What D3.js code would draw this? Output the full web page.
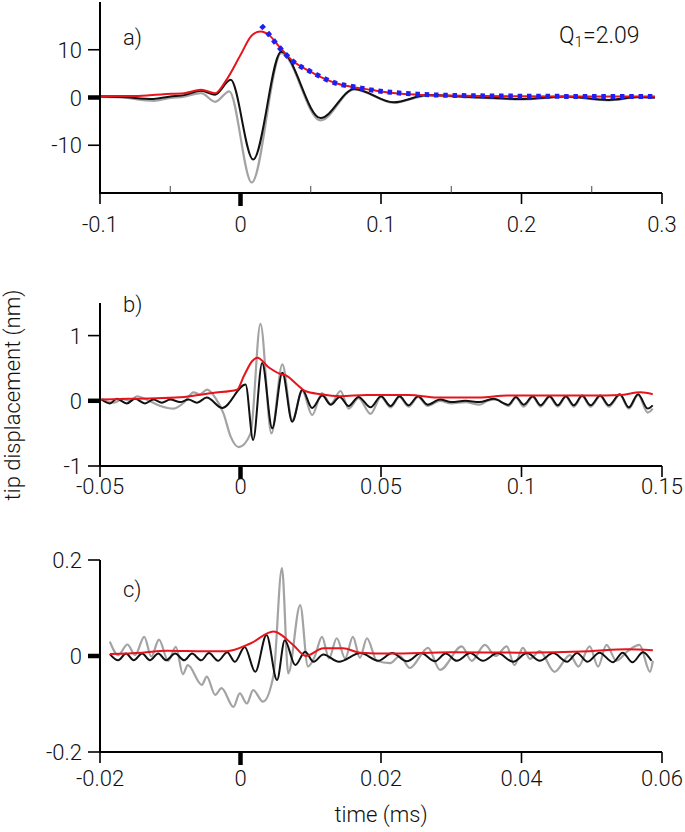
<!DOCTYPE html>
<html>
<head>
<meta charset="utf-8">
<script src="https://cdn.jsdelivr.net/npm/d3@7"></script>
<style>
  body { margin: 0; background: #fff; }
  svg text { font-family: Roboto, "Liberation Sans", Arial, sans-serif; font-weight: 300; fill: #111; }
</style>
</head>
<body>
<div id="chart"></div>
<script>
// ---- panel a) : [time (ms), displacement (nm)]
const aGray = [[-0.100,0.1],[-0.085,0.0],[-0.062,-0.7],[-0.050,-0.1],[-0.040,0.2],[-0.028,0.9],[-0.018,-0.9],[-0.008,1.3],[0.008,-17.8],[0.029,9.3],[0.057,-4.8],[0.081,1.7],[0.109,-1.1],[0.133,0.4],[0.165,0.0],[0.200,-0.4],[0.232,0.1],[0.262,-0.6],[0.283,0.0],[0.295,-0.1]];
const aBlack = [[-0.100,0.2],[-0.085,0.1],[-0.062,-0.3],[-0.050,0.2],[-0.040,0.5],[-0.028,1.4],[-0.018,0.6],[-0.007,3.7],[0.009,-13.0],[0.029,9.6],[0.057,-4.3],[0.081,1.8],[0.109,-1.0],[0.133,0.5],[0.165,0.1],[0.200,-0.3],[0.232,0.2],[0.262,-0.5],[0.283,0.1],[0.295,0.0]];
const aRed = [[-0.100,0.3],[-0.075,0.3],[-0.055,0.7],[-0.040,0.9],[-0.028,1.6],[-0.018,0.9],[-0.010,3.7],[0.000,8.9],[0.008,13.0],[0.014,13.8],[0.0214,12.8],[0.026,11.2],[0.032,9.2],[0.037,7.7],[0.043,6.5],[0.049,5.5],[0.055,4.6],[0.068,3.0],[0.080,2.2],[0.093,1.6],[0.107,1.0],[0.126,0.6],[0.150,0.4],[0.200,0.25],[0.250,0.2],[0.295,0.2]];
const aFit = [[0.0147,15.1],[0.0195,13.5],[0.0261,11.0],[0.032,9.1],[0.0368,7.7],[0.0427,6.5],[0.0487,5.6],[0.0546,4.7],[0.0677,3.0],[0.0795,2.3],[0.0926,1.6],[0.107,1.1],[0.126,0.7],[0.150,0.45],[0.200,0.28],[0.250,0.22],[0.295,0.2]];

// ---- panel b)
const bGray = [[-0.0495,0.03],[-0.0475,-0.01],[-0.045,-0.03],[-0.042,0.03],[-0.0395,0.0],[-0.0368,0.07],[-0.033,0.01],[-0.0285,-0.08],[-0.0238,-0.12],[-0.020,-0.02],[-0.0167,0.13],[-0.0145,0.10],[-0.0119,0.17],[-0.009,0.05],[-0.006,-0.2],[-0.0035,-0.55],[-0.0006,-0.71],[0.0036,-0.5],[0.0071,1.18],[0.011,-0.5],[0.0149,0.56],[0.0184,-0.3],[0.022,0.15],[0.0255,-0.22],[0.029,0.12],[0.0321,-0.05],[0.0356,0.15],[0.0385,-0.12],[0.042,0.04],[0.0463,-0.2],[0.050,0.06],[0.0534,-0.1],[0.0566,0.06],[0.0598,-0.09],[0.0632,0.06],[0.0666,-0.08],[0.071,0.0],[0.075,-0.04],[0.080,-0.02],[0.085,-0.06],[0.088,0.0],[0.091,0.02],[0.0954,-0.08],[0.098,0.05],[0.1008,-0.09],[0.104,0.06],[0.1068,-0.09],[0.110,0.06],[0.1129,-0.09],[0.1158,0.06],[0.1186,-0.09],[0.1216,0.07],[0.1246,-0.09],[0.128,0.07],[0.1311,-0.09],[0.135,0.09],[0.1382,-0.12],[0.1415,0.09],[0.1449,-0.18],[0.1467,-0.12]];
const bBlack = [[-0.0495,0.02],[-0.0465,-0.04],[-0.044,0.03],[-0.0405,-0.04],[-0.0375,0.03],[-0.034,-0.04],[-0.031,0.02],[-0.028,-0.03],[-0.025,0.02],[-0.0215,-0.02],[-0.0185,0.02],[-0.0155,-0.03],[-0.012,0.05],[-0.0065,-0.11],[0.0018,0.25],[0.0045,-0.6],[0.0077,0.58],[0.0113,-0.42],[0.0149,0.43],[0.0184,-0.32],[0.022,0.17],[0.0255,-0.11],[0.0291,0.08],[0.0321,-0.06],[0.0353,0.06],[0.0385,-0.08],[0.042,0.06],[0.0463,-0.1],[0.050,0.07],[0.0534,-0.08],[0.0566,0.07],[0.0598,-0.07],[0.0632,0.07],[0.0666,-0.06],[0.071,0.02],[0.075,-0.02],[0.080,0.0],[0.085,-0.02],[0.090,0.03],[0.0954,-0.06],[0.098,0.06],[0.1008,-0.06],[0.104,0.07],[0.1068,-0.07],[0.110,0.07],[0.1129,-0.07],[0.1158,0.07],[0.1186,-0.07],[0.1216,0.08],[0.1246,-0.07],[0.128,0.08],[0.1311,-0.07],[0.135,0.1],[0.1382,-0.1],[0.1415,0.1],[0.1449,-0.12],[0.1467,-0.07]];
const bRed = [[-0.0495,0.02],[-0.040,0.03],[-0.030,0.04],[-0.020,0.06],[-0.010,0.12],[-0.0012,0.17],[0.0012,0.38],[0.0042,0.61],[0.006,0.66],[0.0101,0.51],[0.0142,0.41],[0.0166,0.38],[0.0201,0.25],[0.023,0.15],[0.0285,0.1],[0.0356,0.07],[0.045,0.09],[0.060,0.09],[0.070,0.05],[0.085,0.05],[0.095,0.08],[0.110,0.08],[0.125,0.08],[0.135,0.09],[0.1424,0.13],[0.1467,0.1]];

// ---- panel c)
const cGray = [[-0.0186,0.03],[-0.0174,0.002],[-0.0161,0.024],[-0.0150,0.002],[-0.0137,0.04],[-0.0127,-0.001],[-0.0116,0.034],[-0.0103,-0.01],[-0.0092,0.019],[-0.0082,-0.038],[-0.0075,-0.019],[-0.0055,-0.06],[-0.0048,-0.043],[-0.0036,-0.081],[-0.0027,-0.067],[-0.0010,-0.106],[-0.0001,-0.078],[0.0009,-0.099],[0.0018,-0.071],[0.0032,-0.095],[0.0047,-0.04],[0.0059,0.183],[0.0068,-0.036],[0.0085,0.106],[0.0096,-0.022],[0.0106,0.0],[0.0116,0.04],[0.0126,-0.005],[0.0137,0.037],[0.0149,-0.005],[0.0160,0.04],[0.0170,-0.004],[0.0180,0.037],[0.0194,-0.01],[0.0213,-0.015],[0.0227,0.0],[0.0241,-0.025],[0.0267,0.017],[0.0284,-0.029],[0.0315,0.02],[0.0329,-0.01],[0.0348,0.023],[0.0363,0.0],[0.0379,0.02],[0.0390,-0.019],[0.0402,0.017],[0.0412,-0.006],[0.0426,0.01],[0.0447,-0.033],[0.0469,0.002],[0.0481,-0.022],[0.0497,0.02],[0.0509,-0.022],[0.0521,0.023],[0.0535,-0.01],[0.0551,0.01],[0.0568,0.023],[0.0583,-0.033],[0.0587,-0.01]];
const cBlack = [[-0.0186,0.004],[-0.0174,-0.009],[-0.0163,0.005],[-0.0152,-0.009],[-0.0140,0.005],[-0.0129,-0.009],[-0.0117,0.005],[-0.0106,-0.009],[-0.0093,0.005],[-0.0080,-0.009],[-0.0069,0.005],[-0.0056,-0.009],[-0.0045,0.006],[-0.0032,-0.01],[-0.0019,0.008],[-0.0008,-0.012],[0.0006,0.019],[0.0021,-0.033],[0.0037,0.044],[0.0052,-0.05],[0.0063,0.033],[0.0078,-0.019],[0.0092,0.009],[0.0104,-0.012],[0.0118,0.003],[0.0140,-0.012],[0.0171,0.006],[0.0196,-0.01],[0.0216,0.006],[0.0237,-0.011],[0.0257,0.006],[0.0277,-0.011],[0.0292,0.005],[0.0308,-0.01],[0.0327,0.006],[0.0345,-0.01],[0.0366,0.006],[0.0388,-0.012],[0.0408,0.006],[0.0426,-0.01],[0.0445,0.006],[0.0465,-0.012],[0.0479,0.006],[0.0494,-0.012],[0.0511,0.007],[0.0530,-0.013],[0.0544,0.007],[0.0558,-0.013],[0.0573,0.008],[0.0585,-0.01]];
const cRed = [[-0.0186,0.004],[-0.0140,0.007],[-0.0105,0.011],[-0.0050,0.01],[-0.0020,0.01],[0.0014,0.026],[0.0047,0.051],[0.0075,0.023],[0.0093,0.0],[0.0118,0.016],[0.0146,0.016],[0.0170,0.007],[0.0213,0.005],[0.030,0.008],[0.040,0.007],[0.0497,0.01],[0.055,0.014],[0.0587,0.012]];

// ticks
const aXTicks = [-0.1, 0, 0.1, 0.2, 0.3];
const aXMinor = [-0.05, 0.05, 0.15, 0.25];
const aYTicks = [-10, 0, 10];
const bXTicks = [-0.05, 0, 0.05, 0.1, 0.15];
const bYTicks = [-1, 0, 1];
const cXTicks = [-0.02, 0, 0.02, 0.04, 0.06];
const cYTicks = [-0.2, 0, 0.2];

const width = 685, height = 832;
const svg = d3.select('#chart').append('svg')
    .attr('width', width)
    .attr('height', height);

const panels = [
    { letter: 'a)', xDomain: [-0.1, 0.3], yDomain: [-20, 20], yRange: [193, 2],
      xTicks: aXTicks, xMinor: aXMinor, yTicks: aYTicks, labelY: 232, letterY: 45,
      gray: aGray, black: aBlack, red: aRed, fit: aFit },
    { letter: 'b)', xDomain: [-0.05, 0.15], yDomain: [-1, 1.5], yRange: [466, 303],
      xTicks: bXTicks, xMinor: [], yTicks: bYTicks, labelY: 494, letterY: 312,
      gray: bGray, black: bBlack, red: bRed },
    { letter: 'c)', xDomain: [-0.02, 0.06], yDomain: [-0.2, 0.2], yRange: [752, 560],
      xTicks: cXTicks, xMinor: [], yTicks: cYTicks, labelY: 786, letterY: 597,
      gray: cGray, black: cBlack, red: cRed }
];

const fmt = v => String(v);

panels.forEach(p => {
    const x = d3.scaleLinear().domain(p.xDomain).range([100, 662]);
    const y = d3.scaleLinear().domain(p.yDomain).range(p.yRange);
    const g = svg.append('g');
    const y0 = p.yRange[0];

    const line = d3.line()
        .x(d => x(d[0]))
        .y(d => y(d[1]))
        .curve(d3.curveMonotoneX);

    g.append('path').attr('d', line(p.gray))
        .attr('fill', 'none').attr('stroke', '#a3a3a3').attr('stroke-width', 2.2);
    g.append('path').attr('d', line(p.black))
        .attr('fill', 'none').attr('stroke', '#111').attr('stroke-width', 2);
    g.append('path').attr('d', line(p.red))
        .attr('fill', 'none').attr('stroke', '#e8141c').attr('stroke-width', 2);
    if (p.fit) {
        g.append('path').attr('d', line(p.fit))
            .attr('fill', 'none').attr('stroke', '#1f1fef').attr('stroke-width', 5)
            .attr('stroke-dasharray', '4.5,4.8');
    }

    // axes lines
    g.append('line').attr('x1', 100).attr('x2', 100).attr('y1', p.yRange[1]).attr('y2', y0 + 1)
        .attr('stroke', '#000').attr('stroke-width', 2);
    g.append('line').attr('x1', 99).attr('x2', 662).attr('y1', y0).attr('y2', y0)
        .attr('stroke', '#000').attr('stroke-width', 2);

    // x ticks
    p.xTicks.forEach(t => {
        const bold = t === 0;
        g.append('line').attr('x1', x(t)).attr('x2', x(t))
            .attr('y1', y0).attr('y2', y0 + (bold ? 13 : 11))
            .attr('stroke', '#000').attr('stroke-width', bold ? 4.5 : 1.6);
        g.append('text').attr('x', x(t)).attr('y', p.labelY)
            .attr('text-anchor', 'middle').attr('font-size', 22)
            .text(fmt(t));
    });
    p.xMinor.forEach(t => {
        g.append('line').attr('x1', x(t)).attr('x2', x(t))
            .attr('y1', y0).attr('y2', y0 - 7)
            .attr('stroke', '#444').attr('stroke-width', 1);
    });

    // y ticks
    p.yTicks.forEach(t => {
        const bold = t === 0;
        g.append('line').attr('x1', 100).attr('x2', 88)
            .attr('y1', y(t)).attr('y2', y(t))
            .attr('stroke', '#000').attr('stroke-width', bold ? 4.5 : 1.6);
        g.append('text').attr('x', 82).attr('y', y(t) + 8)
            .attr('text-anchor', 'end').attr('font-size', 22)
            .text(fmt(t));
    });

    g.append('text').attr('x', 123).attr('y', p.letterY)
        .attr('font-size', 22).text(p.letter);
});

// Q1 annotation
const q = svg.append('text').attr('x', 559).attr('y', 43).attr('font-size', 23);
q.append('tspan').text('Q');
q.append('tspan').attr('font-size', 15).attr('dy', 4).text('1');
q.append('tspan').attr('dy', -4).text('=2.09');

// axis titles
svg.append('text').attr('x', 381).attr('y', 822)
    .attr('text-anchor', 'middle').attr('font-size', 22).text('time (ms)');
svg.append('text')
    .attr('transform', 'translate(20,395) rotate(-90)')
    .attr('text-anchor', 'middle').attr('font-size', 22).text('tip displacement (nm)');
</script>
</body>
</html>
